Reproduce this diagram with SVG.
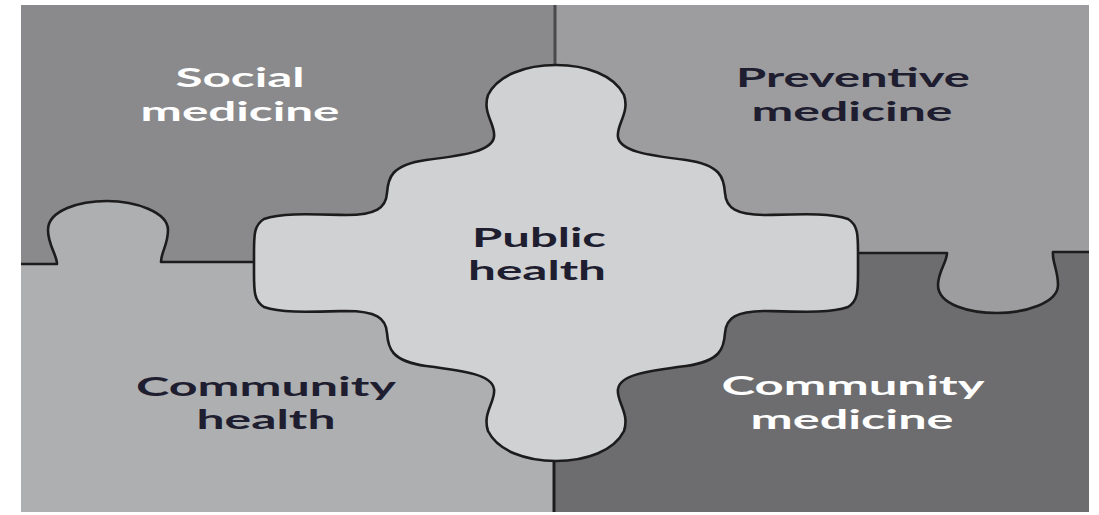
<svg xmlns="http://www.w3.org/2000/svg" width="1099" height="515" viewBox="0 0 1099 515">
<style>
.edge{fill:none;stroke:#1c1c1c;stroke-width:2.6;stroke-linejoin:round}
.lbl{font-family:Lato,"Liberation Sans",sans-serif;font-weight:bold;font-size:27px;text-anchor:middle}
.dark{fill:#1e1e30}
.light{fill:#ffffff}
</style>
<rect x="0" y="0" width="1099" height="515" fill="#ffffff"/>
<g id="social-medicine">
<rect x="21" y="5" width="534" height="259" fill="#8a8a8c"/>
<text class="lbl light" x="240" y="87" textLength="129" lengthAdjust="spacingAndGlyphs">Social</text>
<text class="lbl light" x="240" y="121" textLength="199" lengthAdjust="spacingAndGlyphs">medicine</text>
</g>
<g id="preventive-medicine">
<rect x="555" y="5" width="534" height="249" fill="#9d9d9f"/>
<text class="lbl dark" x="853" y="87" textLength="234" lengthAdjust="spacingAndGlyphs">Preventive</text>
<text class="lbl dark" x="852" y="121" textLength="201" lengthAdjust="spacingAndGlyphs">medicine</text>
</g>
<g id="community-health">
<rect x="21" y="263" width="534" height="249" fill="#aeafb1"/>
<path d="M21,264 L57,264 C57,255 48,245 48,230 C48,210 80,201 107,201 C135,201 168,212 168,230 C168,245 161,252 161,262 L256,262 L256,264 L21,264 Z" fill="#aeafb1"/>
<text class="lbl dark" x="266" y="396" textLength="260" lengthAdjust="spacingAndGlyphs">Community</text>
<text class="lbl dark" x="266" y="429" textLength="139" lengthAdjust="spacingAndGlyphs">health</text>
</g>
<g id="community-medicine">
<rect x="555" y="253" width="534" height="259" fill="#6d6d6f"/>
<path d="M856,253 L947,253 C947,262 938,272 938,285 C938,305 970,313 997,313 C1025,313 1058,303 1058,285 C1058,270 1052,262 1053,252 L1089,252 L1089,253 L856,253 Z" fill="#9d9d9f"/>
<text class="lbl light" x="853" y="395" textLength="263" lengthAdjust="spacingAndGlyphs">Community</text>
<text class="lbl light" x="852" y="429" textLength="203" lengthAdjust="spacingAndGlyphs">medicine</text>
</g>
<g id="connectors">
<line x1="555" y1="5" x2="555" y2="66" stroke="#4a4a4c" stroke-width="3"/>
<line x1="554" y1="460" x2="554" y2="512" stroke="#1c1c1c" stroke-width="3"/>
<path class="edge" d="M21,264 L57,264 C57,255 48,245 48,230 C48,210 80,201 107,201 C135,201 168,212 168,230 C168,245 161,252 161,262 L256,262"/>
<path class="edge" d="M856,253 L947,253 C947,262 938,272 938,285 C938,305 970,313 997,313 C1025,313 1058,303 1058,285 C1058,270 1052,262 1053,252 L1089,252"/>
</g>
<g id="public-health">
<path transform="translate(556,263)" fill="#d0d1d3" stroke="#1c1c1c" stroke-width="2.6" stroke-linejoin="round" d="M0,-198 C30,-198 58,-188 68,-168 C74,-150 60,-138 62,-126 C64,-112 90,-108 130,-103 C165,-98 168,-85 169,-70 C170,-55 180,-48 210,-48 C250,-49 275,-50 292,-44 C302,-38 302,-28 302,-10 L302,10 C302,28 302,38 292,44 C275,50 250,49 210,48 C180,48 170,55 169,70 C168,85 165,98 130,103 C90,108 64,112 62,126 C60,138 74,150 68,168 C58,188 30,198 0,198 C-30,198 -58,188 -68,168 C-74,150 -60,138 -62,126 C-64,112 -90,108 -130,103 C-165,98 -168,85 -169,70 C-170,55 -180,48 -210,48 C-250,49 -275,50 -292,44 C-302,38 -302,28 -302,10 L-302,-10 C-302,-28 -302,-38 -292,-44 C-275,-50 -250,-49 -210,-48 C-180,-48 -170,-55 -169,-70 C-168,-85 -165,-98 -130,-103 C-90,-108 -64,-112 -62,-126 C-60,-138 -74,-150 -68,-168 C-58,-188 -30,-198 0,-198 Z"/>
<text class="lbl dark" x="539" y="247" textLength="134" lengthAdjust="spacingAndGlyphs">Public</text>
<text class="lbl dark" x="537" y="280" textLength="138" lengthAdjust="spacingAndGlyphs">health</text>
</g>
</svg>
